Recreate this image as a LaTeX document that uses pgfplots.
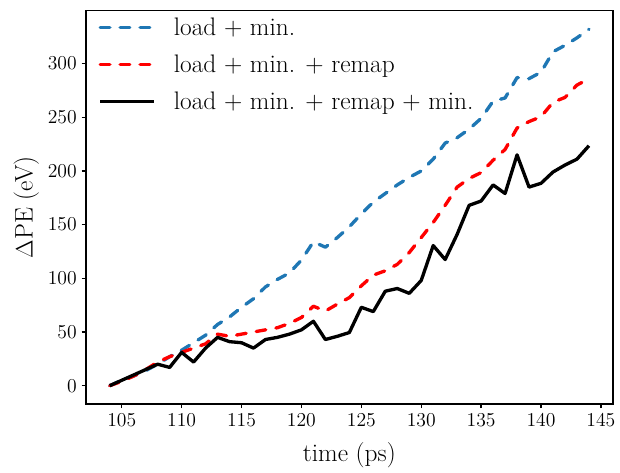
\documentclass[border=0pt]{standalone}
\usepackage{pgfplots}
\pgfplotsset{compat=1.18}
\definecolor{mplblue}{HTML}{1F77B4}
\begin{document}
\begin{tikzpicture}
\begin{axis}[
  scale only axis,
  width=380.5pt, height=284pt,
  xmin=102, xmax=146, ymin=-17, ymax=349.5,
  xtick={105,110,...,145}, ytick={0,50,...,300},
  tick align=outside, major tick length=3pt,
  every tick/.style={black, line width=0.9pt},
  axis line style={line width=1.2pt},
  xtick pos=bottom, ytick pos=left,
  /pgf/number format/assume math mode=true,
  ticklabel style={font=\fontsize{14.2}{16}\selectfont},
  label style={font=\fontsize{18.3}{22}\selectfont},
  xlabel={time (ps)}, ylabel={$\Delta$PE (eV)},
  xlabel style={at={(axis description cs:0.5,-0.13)}, anchor=center},
  ylabel style={at={(axis description cs:-0.113,0.5)}, anchor=center},
  legend cell align=left,
  legend image code/.code={\draw[#1] (0pt,0pt) -- (39pt,0pt); \path (50pt,0pt);},
  legend style={at={(axis description cs:0,1)}, anchor=north west, xshift=6pt, yshift=-1pt,
    draw=none, fill=none, font=\fontsize{18.3}{22}\selectfont, row sep=8.6pt},
]
\addplot[mplblue, line width=2.4pt, line cap=round, line join=round, dash pattern=on 7pt off 7.4pt] coordinates {
(104,0) (105,5) (106,9) (107,14) (108,20) (109,27) (110,33) (111,40) (112,47) (113,57)
(114,64) (115,73) (116,81) (117,92) (118,99) (119,105) (120,117) (121,134) (122,129) (123,138)
(124,148) (125,160) (126,171) (127,179) (128,187) (129,194) (130,200) (131,211) (132,226) (133,231)
(134,239) (135,249) (136,265) (137,268) (138,287) (139,286) (140,292) (141,311) (142,317) (143,324) (144,332)};
\addlegendentry{load + min.}
\addplot[red, line width=2.4pt, line cap=round, line join=round, dash pattern=on 7pt off 7.4pt] coordinates {
(104,0) (105,4) (106,9) (107,15) (108,22) (109,27) (110,31) (111,35) (112,39) (113,48)
(114,46) (115,48) (116,50) (117,52) (118,54) (119,58) (120,63.5) (121,74) (122,69.5) (123,76)
(124,82) (125,93) (126,103) (127,107) (128,113) (129,124) (130,138) (131,152) (132,168) (133,185)
(134,193) (135,198.5) (136,210) (137,220) (138,240) (139,246) (140,250.5) (141,264) (142,268.5) (143,280) (144,286)};
\addlegendentry{load + min. + remap}
\addplot[black, line width=2.4pt, line join=round] coordinates {
(104,0) (105,5) (106,10) (107,15) (108,20) (109,17) (110,31) (111,22) (112,35) (113,45)
(114,41) (115,40) (116,35) (117,43) (118,45) (119,48) (120,52) (121,60) (122,43) (123,46)
(124,49.5) (125,73) (126,69) (127,88) (128,90.5) (129,86) (130,98) (131,130.5) (132,117.5) (133,141)
(134,168) (135,172) (136,187) (137,179) (138,215) (139,185) (140,188.5) (141,199) (142,205.5) (143,211) (144,223.5)};
\addlegendentry{load + min. + remap + min.}
\end{axis}
\useasboundingbox ([xshift=-61.92pt,yshift=-45.36pt]current axis.south west) rectangle ([xshift=3.96pt,yshift=7.56pt]current axis.north east);
\end{tikzpicture}
\end{document}
